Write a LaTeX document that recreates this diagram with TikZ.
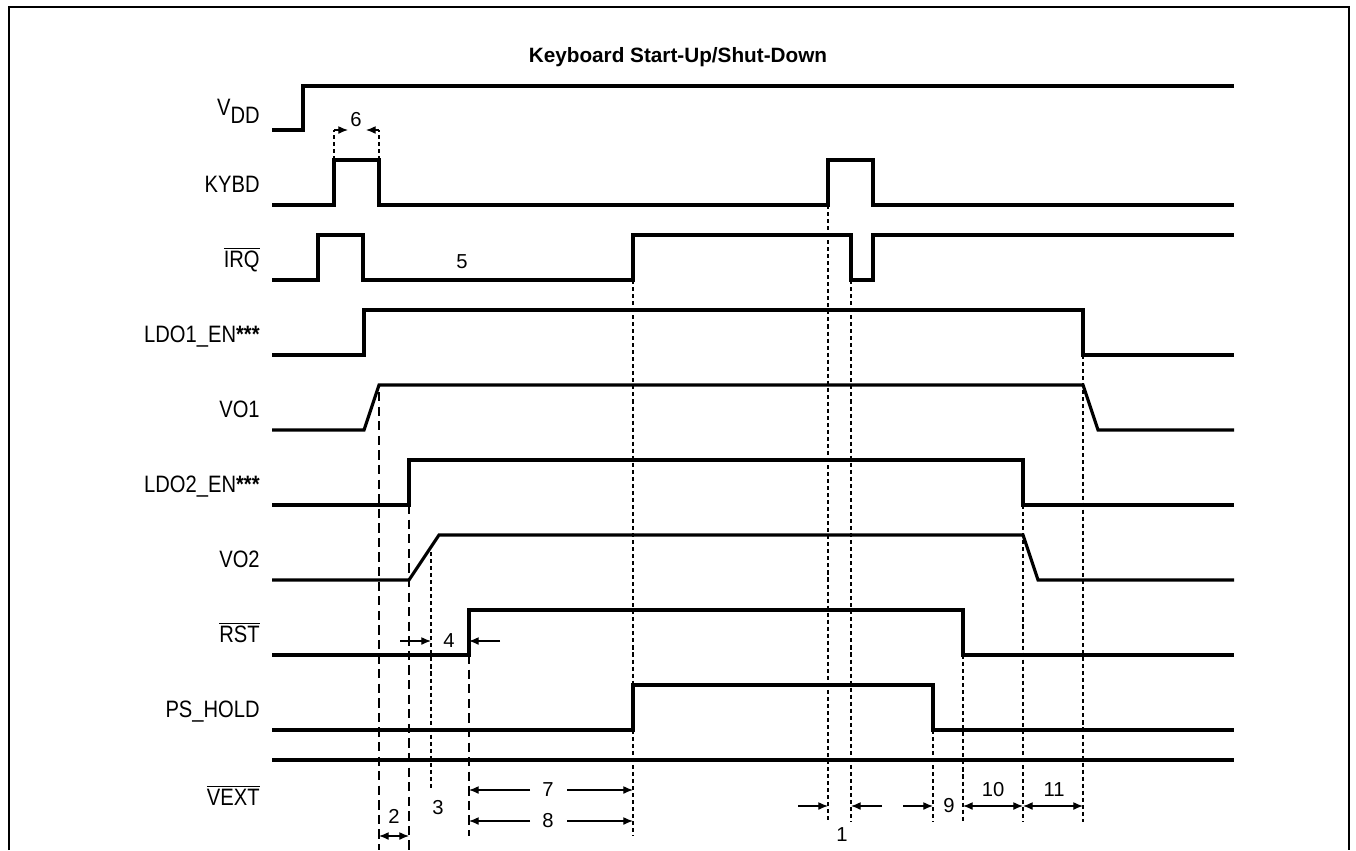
\documentclass[tikz,border=0pt]{standalone}
\usepackage{fontspec}
\setmainfont{Liberation Sans}
\newfontfamily\sigfont[FakeStretch=0.85]{Liberation Sans}
\usetikzlibrary{arrows.meta}
\newcommand{\barsig}[1]{$\overline{\mbox{#1}}$}

\begin{document}
\begin{tikzpicture}[x=0.02cm, y=-0.02cm,
    sig/.style={line width=1.8pt},
    lbl/.style={anchor=base east, inner sep=0pt, font=\sigfont\fontsize{13.5}{15}\selectfont},
    num/.style={inner sep=1pt, font=\fontsize{11.5}{13}\selectfont},
    guide/.style={line width=0.95pt, dash pattern=on 5.3pt off 3pt},
    tick/.style={line width=0.75pt, dash pattern=on 2.3pt off 1.7pt},
    arr/.style={-{Latex[length=5.5pt,width=4.5pt]}, line width=0.7pt},
    dim/.style={{Latex[length=5.5pt,width=4.5pt]}-{Latex[length=5.5pt,width=4.5pt]}, line width=0.7pt}
]
\useasboundingbox (0,0) rectangle (1356,850);
\draw[line width=0.7pt] (9,850) |- (1349,7) -- (1349,850);

\node[font=\bfseries\fontsize{11.8}{14}\selectfont] (title) at (678,57) {Keyboard Start-Up/Shut-Down};

\node[lbl] (lvdd) at (260,115) {V\raisebox{-5pt}{DD}};
\node[lbl] (lkybd) at (260,192) {KYBD};
\node[lbl] (lirq) at (260,267) {\barsig{IRQ}};
\node[lbl] (lldoa) at (260,342) {LDO1\_EN\textbf{***}};
\node[lbl] (lvoa) at (260,417) {VO1};
\node[lbl] (lldob) at (260,492) {LDO2\_EN\textbf{***}};
\node[lbl] (lvob) at (260,567) {VO2};
\node[lbl] (lrst) at (260,642) {\barsig{RST}};
\node[lbl] (lhold) at (260,717) {PS\_HOLD};
\node[lbl] (lvext) at (260,805) {\barsig{VEXT}};

\draw[sig] (272,130) -- (303,130) -- (303,86) -- (1234,86);
\draw[sig] (272,205) -- (334,205) -- (334,160) -- (379,160) -- (379,205) -- (828,205) -- (828,160) -- (873,160) -- (873,205) -- (1234,205);
\draw[sig] (272,280) -- (318,280) -- (318,235) -- (363,235) -- (363,280) -- (633,280) -- (633,235) -- (851,235) -- (851,280) -- (873,280) -- (873,235) -- (1234,235);
\draw[sig] (272,355) -- (364,355) -- (364,310) -- (1083,310) -- (1083,355) -- (1234,355);
\draw[sig] (272,430) -- (364,430) -- (379,385) -- (1083,385) -- (1098,430) -- (1234,430);
\draw[sig] (272,505) -- (409,505) -- (409,460) -- (1023,460) -- (1023,505) -- (1234,505);
\draw[sig] (272,580) -- (409,580) -- (439,535) -- (1023,535) -- (1038,580) -- (1234,580);
\draw[sig] (272,655) -- (469,655) -- (469,610) -- (963,610) -- (963,655) -- (1234,655);
\draw[sig] (272,730) -- (633,730) -- (633,685) -- (933,685) -- (933,730) -- (1234,730);
\draw[sig] (272,760) -- (1234,760);

\draw[tick] (334,160) -- (334,130);
\draw[tick] (379,160) -- (379,130);
\draw[guide] (379,392) -- (379,850);
\draw[guide] (409,505) -- (409,850);
\draw[tick] (431,552) -- (431,790);
\draw[guide] (469,655) -- (469,836);
\draw[tick] (633,280) -- (633,836);
\draw[tick] (828,205) -- (828,822);
\draw[tick] (851,280) -- (851,822);
\draw[tick] (933,730) -- (933,822);
\draw[tick] (963,655) -- (963,822);
\draw[tick] (1023,505) -- (1023,822);
\draw[tick] (1083,355) -- (1083,822);

\node[num] (n6) at (356,120) {6};
\draw[arr] (334,130) -- (348,130);
\draw[arr] (379,130) -- (366,130);

\node[num] (n5) at (462,262) {5};

\node[num] (n4) at (449,641) {4};
\draw[arr] (400,641) -- (431,641);
\draw[arr] (500,641) -- (469,641);

\node[num] (n3) at (438,808) {3};
\node[num] (n2) at (394,816) {2};
\draw[dim] (379,836) -- (409,836);

\node[num] (n7) at (548,790) {7};
\draw[arr] (530,790) -- (469,790);
\draw[arr] (567,790) -- (633,790);
\node[num] (n8) at (548,821) {8};
\draw[arr] (530,821) -- (469,821);
\draw[arr] (567,821) -- (633,821);

\node[num] (n1) at (842,835) {1};
\draw[arr] (798,806) -- (828,806);
\draw[arr] (882,806) -- (851,806);

\node[num] (n9) at (949,806) {9};
\draw[arr] (903,806) -- (933,806);

\node[num] (n10) at (993,790) {10};
\draw[dim] (963,806) -- (1023,806);
\node[num] (n11) at (1054,790) {11};
\draw[dim] (1023,806) -- (1083,806);
\end{tikzpicture}
\end{document}
